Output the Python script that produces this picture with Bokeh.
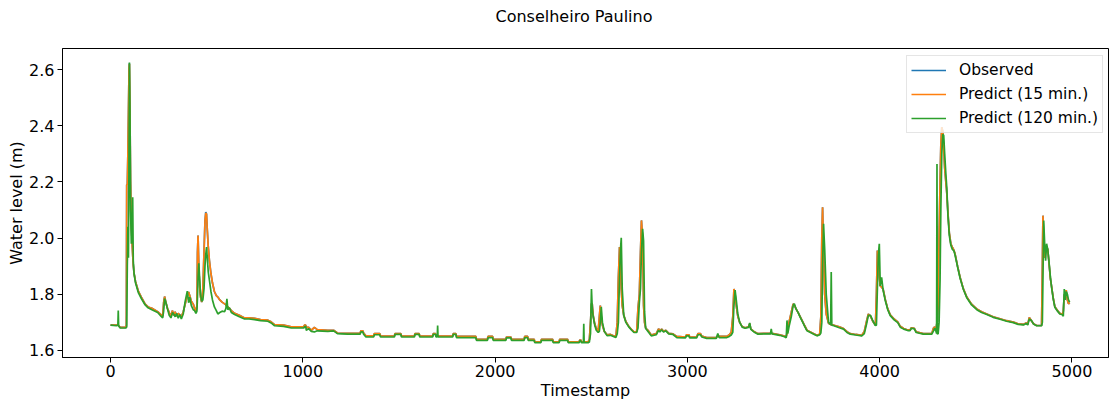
from bokeh.plotting import figure
from bokeh.models import Range1d, FixedTicker, PrintfTickFormatter, Legend, LegendItem, ColumnDataSource, Title
from bokeh.embed import file_html
from bokeh.resources import INLINE

timestamp = [
    0, 30, 38, 40, 42, 50, 78, 82, 84, 87, 90, 93, 96, 98, 101, 104, 108, 112, 115, 118, 122, 130, 145, 160,
    180, 195, 215, 245, 262, 271, 276, 281, 288, 296, 305, 314, 322, 328, 336, 344, 352, 360, 368, 378, 388,
    399, 406, 412, 420, 430, 437, 444, 449, 452, 455, 459, 463, 468, 474, 480, 486, 491, 495, 499, 503, 508,
    514, 522, 530, 540, 550, 558, 568, 580, 593, 600, 605, 610, 618, 628, 645, 670, 697, 720, 749, 780, 818,
    835, 853, 900, 940, 1005, 1008, 1015, 1018, 1030, 1044, 1060, 1075, 1130, 1160, 1180, 1234, 1298, 1302,
    1312, 1316, 1328, 1368, 1372, 1400, 1404,
    1476, 1479, 1510, 1513, 1580, 1583, 1605, 1608, 1675, 1678, 1690, 1693, 1699, 1701, 1703, 1779, 1782,
    1796, 1799, 1900, 1903, 1960, 1963, 1987, 1990, 2056, 2059, 2082, 2085, 2151, 2154, 2169, 2172, 2203,
    2206, 2238, 2241, 2299, 2302, 2333, 2336, 2377, 2380, 2437, 2440, 2446, 2449, 2459, 2461, 2463, 2484,
    2490, 2496, 2501, 2505, 2510, 2518, 2526, 2536, 2542, 2547, 2552, 2558, 2568, 2582, 2600, 2615, 2628,
    2635, 2641, 2647, 2652, 2656, 2661, 2669, 2680, 2695, 2710, 2722, 2736, 2743, 2750, 2756, 2761, 2767,
    2772, 2777, 2783, 2795, 2812, 2838, 2850, 2857, 2866, 2876, 2888, 2903, 2925, 2945, 2990, 2995, 3008,
    3012, 3048, 3055, 3068, 3075, 3100, 3150, 3158, 3165, 3205, 3218, 3228, 3236, 3242, 3248, 3254, 3262,
    3272, 3285, 3300, 3318, 3324, 3330, 3346, 3367, 3400, 3432, 3436, 3440, 3480, 3505, 3514, 3518, 3522,
    3530, 3540, 3550, 3556, 3565, 3576, 3587, 3600, 3610, 3622, 3640, 3660, 3674, 3688, 3694, 3699, 3703,
    3708, 3714, 3722, 3734, 3745, 3748, 3751, 3762, 3790, 3812, 3830, 3847, 3875, 3907, 3920, 3932, 3941,
    3952, 3965, 3978, 3983, 3988, 3993, 3998, 4003, 4010, 4018, 4029, 4042, 4055, 4075, 4094, 4107, 4125,
    4146, 4158, 4165, 4180, 4190, 4227, 4271, 4280, 4286, 4292, 4296, 4298, 4300, 4304, 4309, 4314, 4318,
    4323, 4328, 4333, 4338, 4344, 4349, 4355, 4362, 4370, 4378, 4386, 4392, 4405, 4418, 4435, 4453, 4478,
    4505, 4530, 4557, 4590, 4626, 4660, 4695, 4720, 4748, 4762, 4770, 4778, 4790, 4800, 4816, 4842, 4846,
    4849, 4853, 4858, 4863, 4868, 4874, 4880, 4888, 4894, 4903, 4911, 4925, 4937, 4950, 4955, 4960, 4965,
    4970, 4976, 4982, 4988,
]

observed = [
    1.690, 1.690, 1.690, 1.690, 1.688, 1.682, 1.682, 1.690, 2.190, 2.190, 2.300, 2.450, 2.600, 2.622, 2.450,
    2.200, 2.050, 1.980, 1.940, 1.905, 1.875, 1.845, 1.810, 1.790, 1.765, 1.755, 1.750, 1.738, 1.728, 1.722,
    1.770, 1.792, 1.770, 1.750, 1.735, 1.722, 1.742, 1.725, 1.738, 1.722, 1.732, 1.726, 1.720, 1.738, 1.765,
    1.795, 1.808, 1.795, 1.775, 1.765, 1.750, 1.738, 1.760, 1.950, 2.009, 1.900, 1.830, 1.790, 1.772, 1.820,
    1.950, 2.060, 2.093, 2.086, 2.030, 1.970, 1.920, 1.874, 1.840, 1.810, 1.795, 1.790, 1.780, 1.772, 1.766,
    1.762, 1.758, 1.755, 1.750, 1.742, 1.732, 1.725, 1.716, 1.716, 1.714, 1.710, 1.708, 1.702, 1.692, 1.690,
    1.684, 1.684, 1.690, 1.690, 1.682, 1.682, 1.672, 1.682, 1.674, 1.672, 1.672, 1.662, 1.661, 1.662, 1.670,
    1.670, 1.662, 1.652, 1.652, 1.660, 1.660, 1.652,
    1.651, 1.660, 1.660, 1.651, 1.651, 1.660, 1.660, 1.651, 1.651, 1.660, 1.660, 1.651, 1.651, 1.651, 1.651,
    1.651, 1.660, 1.660, 1.650, 1.650, 1.640, 1.640, 1.650, 1.650, 1.640, 1.640, 1.648, 1.648, 1.640, 1.640,
    1.650, 1.650, 1.640, 1.640, 1.631, 1.631, 1.640, 1.640, 1.631, 1.631, 1.640, 1.640, 1.631, 1.631, 1.637,
    1.637, 1.631, 1.631, 1.631, 1.631, 1.631,
    1.638, 1.700, 1.767, 1.765, 1.725, 1.695, 1.678, 1.668, 1.720, 1.760, 1.720, 1.690, 1.668, 1.656, 1.657,
    1.652, 1.650, 1.700, 1.860, 1.968, 1.900, 1.820, 1.760, 1.725, 1.703, 1.686, 1.674, 1.666, 1.666, 1.750,
    1.800, 1.950, 2.063, 2.000, 1.760, 1.700, 1.680, 1.672, 1.655, 1.660, 1.677, 1.670, 1.676, 1.668, 1.672,
    1.661, 1.659, 1.650, 1.648, 1.656, 1.656, 1.648, 1.648, 1.660, 1.660, 1.651, 1.646, 1.646, 1.652, 1.650,
    1.650, 1.656, 1.665, 1.720, 1.819, 1.800, 1.760, 1.722, 1.700, 1.685, 1.681, 1.684, 1.695, 1.676, 1.668,
    1.660, 1.661, 1.661, 1.662, 1.661, 1.656, 1.651, 1.650, 1.660, 1.675, 1.705, 1.735, 1.766, 1.762, 1.748,
    1.735, 1.720, 1.702, 1.688, 1.672, 1.666, 1.659, 1.654, 1.658, 1.720, 2.000, 2.110, 1.950, 1.800, 1.730,
    1.697, 1.692, 1.692, 1.691, 1.690, 1.684, 1.678, 1.667, 1.660, 1.657, 1.654, 1.668, 1.705, 1.730, 1.722,
    1.703, 1.690, 1.800, 1.956, 1.900, 1.860, 1.830, 1.825, 1.818, 1.782, 1.748, 1.727, 1.712, 1.702, 1.686,
    1.678, 1.673, 1.673, 1.681, 1.679, 1.666, 1.660, 1.660, 1.680, 1.684, 1.670, 1.690, 1.700, 1.710, 1.760,
    2.000, 2.200, 2.330, 2.395, 2.380, 2.320, 2.250, 2.200, 2.160, 2.090, 2.020, 1.980, 1.968, 1.957, 1.944,
    1.900, 1.861, 1.820, 1.790, 1.765, 1.748, 1.738, 1.730, 1.720, 1.713, 1.706, 1.701, 1.695, 1.693, 1.698,
    1.693, 1.718, 1.705, 1.695, 1.689, 1.689, 1.900, 2.080, 2.000, 1.930, 1.950, 1.970, 1.960, 1.915, 1.855,
    1.828, 1.785, 1.756, 1.742, 1.732, 1.729, 1.740, 1.800, 1.790, 1.815, 1.780, 1.766, 1.770,
]

predict_15 = [
    1.690, 1.690, 1.690, 1.690, 1.688, 1.682, 1.682, 1.690, 2.190, 2.190, 2.300, 2.450, 2.600, 2.620, 2.450,
    2.200, 2.050, 1.980, 1.940, 1.905, 1.875, 1.845, 1.810, 1.790, 1.765, 1.755, 1.750, 1.738, 1.728, 1.722,
    1.770, 1.792, 1.770, 1.750, 1.735, 1.722, 1.742, 1.725, 1.738, 1.722, 1.732, 1.726, 1.720, 1.738, 1.765,
    1.795, 1.808, 1.795, 1.775, 1.765, 1.750, 1.738, 1.760, 1.950, 2.009, 1.900, 1.830, 1.790, 1.772, 1.820,
    1.950, 2.060, 2.089, 2.086, 2.030, 1.970, 1.920, 1.874, 1.840, 1.810, 1.795, 1.790, 1.780, 1.772, 1.766,
    1.762, 1.758, 1.755, 1.750, 1.742, 1.732, 1.725, 1.716, 1.716, 1.714, 1.710, 1.708, 1.702, 1.692, 1.690,
    1.684, 1.684, 1.690, 1.690, 1.682, 1.682, 1.672, 1.682, 1.674, 1.672, 1.672, 1.662, 1.661, 1.662, 1.670,
    1.670, 1.662, 1.652, 1.652, 1.660, 1.660, 1.652,
    1.651, 1.660, 1.660, 1.651, 1.651, 1.660, 1.660, 1.651, 1.651, 1.660, 1.660, 1.651, 1.651, 1.651, 1.651,
    1.651, 1.660, 1.660, 1.650, 1.650, 1.640, 1.640, 1.650, 1.650, 1.640, 1.640, 1.648, 1.648, 1.640, 1.640,
    1.650, 1.650, 1.640, 1.640, 1.631, 1.631, 1.640, 1.640, 1.631, 1.631, 1.640, 1.640, 1.631, 1.631, 1.637,
    1.637, 1.631, 1.631, 1.631, 1.631, 1.631,
    1.638, 1.700, 1.767, 1.765, 1.725, 1.695, 1.678, 1.668, 1.720, 1.760, 1.720, 1.690, 1.668, 1.656, 1.657,
    1.652, 1.650, 1.700, 1.860, 1.968, 1.900, 1.820, 1.760, 1.725, 1.703, 1.686, 1.674, 1.666, 1.666, 1.750,
    1.800, 1.950, 2.063, 2.000, 1.760, 1.700, 1.680, 1.672, 1.655, 1.660, 1.677, 1.670, 1.676, 1.668, 1.672,
    1.661, 1.659, 1.650, 1.648, 1.656, 1.656, 1.648, 1.648, 1.660, 1.660, 1.651, 1.646, 1.646, 1.652, 1.650,
    1.650, 1.656, 1.665, 1.720, 1.819, 1.800, 1.760, 1.722, 1.700, 1.685, 1.681, 1.684, 1.695, 1.676, 1.668,
    1.660, 1.661, 1.661, 1.662, 1.661, 1.656, 1.651, 1.650, 1.660, 1.675, 1.705, 1.735, 1.766, 1.762, 1.748,
    1.735, 1.720, 1.702, 1.688, 1.672, 1.666, 1.659, 1.654, 1.658, 1.720, 2.000, 2.110, 1.950, 1.800, 1.730,
    1.697, 1.692, 1.692, 1.691, 1.690, 1.684, 1.678, 1.667, 1.660, 1.657, 1.654, 1.668, 1.705, 1.730, 1.722,
    1.703, 1.690, 1.800, 1.956, 1.900, 1.860, 1.830, 1.825, 1.818, 1.782, 1.748, 1.727, 1.712, 1.702, 1.686,
    1.678, 1.673, 1.673, 1.681, 1.679, 1.666, 1.660, 1.660, 1.680, 1.684, 1.670, 1.690, 1.700, 1.710, 1.760,
    2.000, 2.200, 2.330, 2.395, 2.380, 2.320, 2.250, 2.200, 2.160, 2.090, 2.020, 1.980, 1.968, 1.957, 1.944,
    1.900, 1.861, 1.820, 1.790, 1.765, 1.748, 1.738, 1.730, 1.720, 1.713, 1.706, 1.701, 1.695, 1.693, 1.698,
    1.693, 1.718, 1.705, 1.695, 1.689, 1.689, 1.900, 2.080, 2.000, 1.930, 1.950, 1.970, 1.960, 1.915, 1.855,
    1.828, 1.785, 1.756, 1.742, 1.732, 1.729, 1.740, 1.800, 1.790, 1.815, 1.780, 1.766, 1.770,
]

predict_120 = [
    1.690, 1.688, 1.690, 1.742, 1.688, 1.680, 1.680, 1.682, 1.684, 1.900, 2.040, 1.930, 2.300, 2.625, 2.450,
    2.100, 1.980, 2.050, 2.145, 1.920, 1.874, 1.840, 1.805, 1.785, 1.762, 1.752, 1.745, 1.735, 1.722, 1.716,
    1.740, 1.785, 1.770, 1.748, 1.725, 1.716, 1.735, 1.730, 1.720, 1.732, 1.715, 1.728, 1.712, 1.730, 1.775,
    1.811, 1.770, 1.790, 1.760, 1.745, 1.742, 1.732, 1.740, 1.790, 1.860, 1.910, 1.860, 1.800, 1.775, 1.780,
    1.820, 1.900, 1.940, 1.968, 1.930, 1.880, 1.850, 1.810, 1.780, 1.755, 1.742, 1.730, 1.735, 1.740, 1.738,
    1.750, 1.784, 1.745, 1.752, 1.735, 1.728, 1.720, 1.712, 1.712, 1.710, 1.706, 1.704, 1.698, 1.688, 1.686,
    1.680, 1.680, 1.684, 1.686, 1.672, 1.678, 1.668, 1.666, 1.670, 1.668, 1.670, 1.660, 1.658, 1.658, 1.666,
    1.666, 1.658, 1.648, 1.648, 1.656, 1.656, 1.648,
    1.648, 1.657, 1.657, 1.648, 1.648, 1.657, 1.657, 1.648, 1.648, 1.657, 1.657, 1.648, 1.648, 1.689, 1.648,
    1.648, 1.657, 1.657, 1.646, 1.646, 1.636, 1.636, 1.646, 1.646, 1.636, 1.636, 1.645, 1.645, 1.636, 1.636,
    1.646, 1.646, 1.636, 1.636, 1.628, 1.628, 1.636, 1.636, 1.628, 1.628, 1.636, 1.636, 1.628, 1.628, 1.634,
    1.634, 1.628, 1.628, 1.695, 1.628, 1.628,
    1.630, 1.660, 1.819, 1.750, 1.720, 1.690, 1.672, 1.664, 1.668, 1.700, 1.755, 1.700, 1.668, 1.653, 1.654,
    1.650, 1.646, 1.660, 1.700, 1.860, 1.960, 2.001, 1.820, 1.725, 1.700, 1.684, 1.672, 1.664, 1.664, 1.680,
    1.770, 1.820, 1.950, 2.033, 1.990, 1.740, 1.678, 1.668, 1.652, 1.656, 1.672, 1.666, 1.674, 1.666, 1.670,
    1.659, 1.657, 1.646, 1.645, 1.652, 1.652, 1.645, 1.645, 1.656, 1.656, 1.648, 1.643, 1.643, 1.660, 1.646,
    1.646, 1.650, 1.655, 1.665, 1.760, 1.815, 1.780, 1.730, 1.700, 1.683, 1.679, 1.682, 1.698, 1.675, 1.666,
    1.658, 1.659, 1.659, 1.677, 1.659, 1.654, 1.649, 1.645, 1.707, 1.660, 1.690, 1.720, 1.760, 1.766, 1.748,
    1.735, 1.718, 1.700, 1.686, 1.670, 1.664, 1.657, 1.652, 1.656, 1.662, 1.700, 1.900, 2.051, 1.960, 1.800,
    1.700, 1.692, 1.879, 1.690, 1.688, 1.681, 1.676, 1.664, 1.658, 1.655, 1.652, 1.660, 1.695, 1.725, 1.725,
    1.705, 1.689, 1.690, 1.820, 1.940, 1.980, 1.830, 1.860, 1.814, 1.778, 1.745, 1.724, 1.709, 1.699, 1.683,
    1.676, 1.671, 1.671, 1.679, 1.677, 1.664, 1.658, 1.658, 1.670, 1.680, 1.670, 1.660, 2.264, 1.658, 1.660,
    1.700, 1.850, 2.100, 2.300, 2.370, 2.365, 2.300, 2.230, 2.180, 2.080, 2.010, 1.975, 1.960, 1.955, 1.940,
    1.898, 1.858, 1.818, 1.788, 1.762, 1.745, 1.735, 1.728, 1.718, 1.711, 1.704, 1.699, 1.693, 1.691, 1.696,
    1.691, 1.712, 1.706, 1.694, 1.688, 1.688, 1.700, 1.850, 2.063, 1.980, 1.920, 1.980, 1.960, 1.920, 1.860,
    1.825, 1.782, 1.754, 1.740, 1.730, 1.727, 1.722, 1.819, 1.780, 1.810, 1.800, 1.780, 1.772,
]

series_names = ["Observed", "Predict (15 min.)", "Predict (120 min.)"]
series_colors = ["#1f77b4", "#ff7f0e", "#2ca02c"]
x_ticks = [0, 1000, 2000, 3000, 4000, 5000]
y_ticks = [1.6, 1.8, 2.0, 2.2, 2.4, 2.6]
chart_title = "Conselheiro Paulino"
x_label = "Timestamp"
y_label = "Water level (m)"

FONT = "DejaVu Sans"

p = figure(
    width=1111, height=404,
    x_range=Range1d(-250, 5190), y_range=Range1d(1.575, 2.675),
    output_backend="svg", toolbar_location=None,
    min_border_left=62, min_border_right=3, min_border_top=48, min_border_bottom=47,
    title=chart_title,
)
p.title.align = "left"
p.title.offset = 433
p.title.vertical_align = "bottom"
p.title.standoff = 8
p.title.text_font = FONT
p.title.text_font_size = "16px"
p.title.text_font_style = "normal"
p.title.text_color = "black"

# empty spacer between the frame and the title
spacer = Title(text=" ", text_font_size="16px", standoff=0, text_color="white")
p.add_layout(spacer, "above")

src = ColumnDataSource(dict(x=timestamp, obs=observed, p15=predict_15, p120=predict_120))
renderers = []
for col, color in zip(["obs", "p15", "p120"], series_colors):
    r = p.line("x", col, source=src, line_color=color, line_width=1.7)
    renderers.append(r)

p.grid.visible = False
p.outline_line_color = "black"
p.outline_line_width = 1
p.background_fill_color = "white"
p.border_fill_color = "white"

for ax in (p.xaxis[0], p.yaxis[0]):
    ax.major_label_text_font = FONT
    ax.major_label_text_font_size = "16px"
    ax.major_label_text_color = "black"
    ax.axis_label_text_font = FONT
    ax.axis_label_text_font_size = "16px"
    ax.axis_label_text_font_style = "normal"
    ax.axis_label_text_color = "black"
    ax.major_tick_in = 0
    ax.major_tick_out = 5
    ax.minor_tick_line_color = None
    ax.axis_line_color = "black"
    ax.major_tick_line_color = "black"

p.xaxis[0].ticker = FixedTicker(ticks=x_ticks)
p.xaxis[0].formatter = PrintfTickFormatter(format="%d")
p.xaxis[0].axis_label = x_label
p.xaxis[0].major_label_standoff = 2
p.xaxis[0].axis_label_standoff = 1

p.yaxis[0].ticker = FixedTicker(ticks=y_ticks)
p.yaxis[0].formatter = PrintfTickFormatter(format="%.1f")
p.yaxis[0].axis_label = y_label
p.yaxis[0].major_label_standoff = 3
p.yaxis[0].axis_label_standoff = 0

legend = Legend(
    items=[LegendItem(label=n, renderers=[r]) for n, r in zip(series_names, renderers)],
    location=(844, 224),
    label_text_font=FONT, label_text_font_size="15.5px", label_text_color="black",
    glyph_width=35, glyph_height=20, label_height=20, label_standoff=13,
    spacing=4, padding=4, margin=0,
    background_fill_color="white", background_fill_alpha=0.8,
    border_line_color="#cccccc", border_line_width=1,
)
p.add_layout(legend)

open("out.html", "w").write(file_html(p, INLINE))
